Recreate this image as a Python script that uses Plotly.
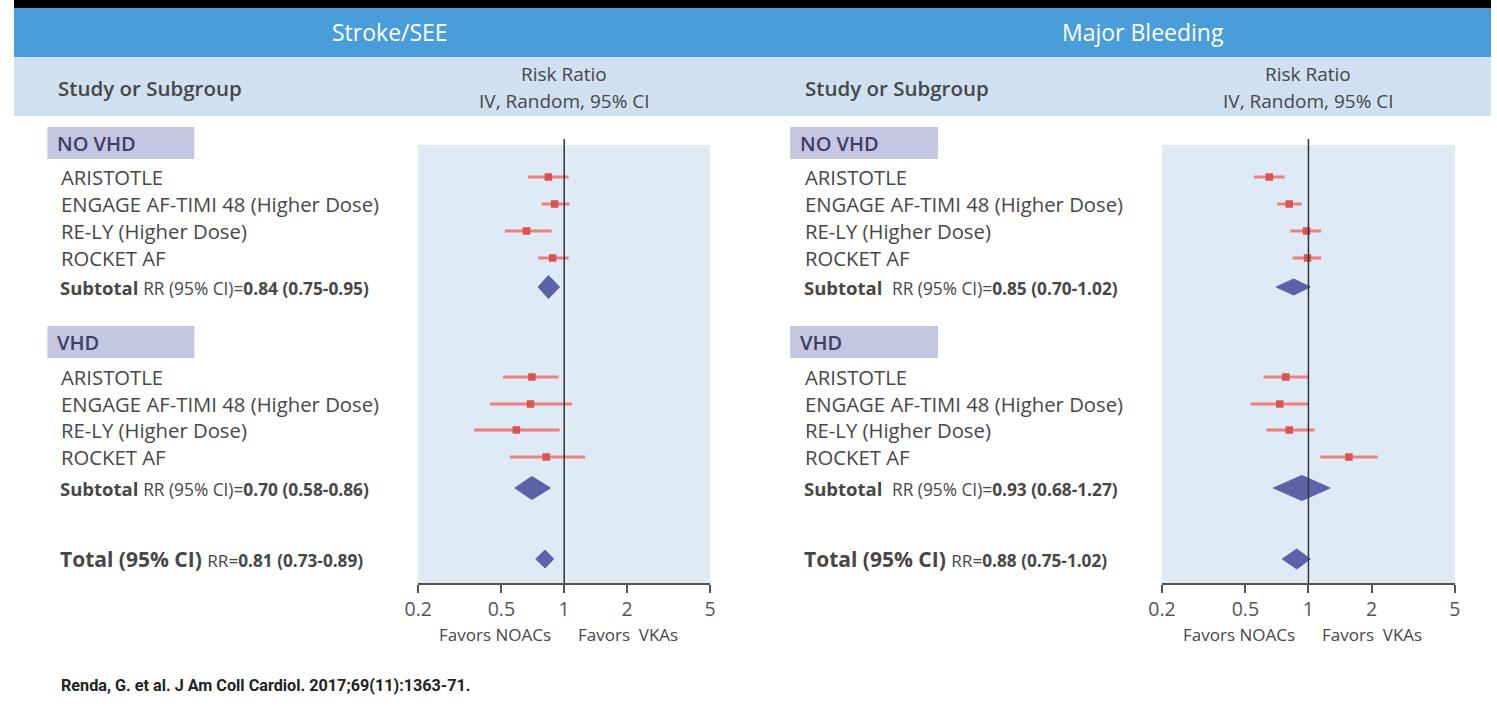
import math
import plotly.graph_objects as go

W, H = 1497, 717

# ---------------- data ----------------
studies = ["ARISTOTLE", "ENGAGE AF-TIMI 48 (Higher Dose)", "RE-LY (Higher Dose)", "ROCKET AF"]
groups = ["NO VHD", "VHD"]
panel_titles = ["Stroke/SEE", "Major Bleeding"]
tick_vals = [0.2, 0.5, 1, 2, 5]
tick_text = ["0.2", "0.5", "1", "2", "5"]

# Stroke/SEE
stroke_novhd_rr = [0.84, 0.90, 0.66, 0.88]
stroke_novhd_lo = [0.67, 0.78, 0.52, 0.75]
stroke_novhd_hi = [1.05, 1.06, 0.87, 1.05]
stroke_vhd_rr = [0.70, 0.69, 0.59, 0.82]
stroke_vhd_lo = [0.51, 0.44, 0.37, 0.55]
stroke_vhd_hi = [0.94, 1.09, 0.95, 1.26]
stroke_sub_rr = [0.84, 0.70]
stroke_sub_lo = [0.75, 0.58]
stroke_sub_hi = [0.95, 0.86]
stroke_tot = [0.81, 0.73, 0.89]

# Major bleeding
bleed_novhd_rr = [0.65, 0.81, 0.98, 0.99]
bleed_novhd_lo = [0.55, 0.71, 0.82, 0.84]
bleed_novhd_hi = [0.77, 0.93, 1.15, 1.15]
bleed_vhd_rr = [0.78, 0.73, 0.81, 1.56]
bleed_vhd_lo = [0.61, 0.53, 0.63, 1.14]
bleed_vhd_hi = [1.00, 1.00, 1.07, 2.14]
bleed_sub_rr = [0.85, 0.93]
bleed_sub_lo = [0.70, 0.68]
bleed_sub_hi = [1.02, 1.27]
bleed_tot = [0.88, 0.75, 1.02]

citation = "Renda, G. et al. J Am Coll Cardiol. 2017;69(11):1363-71."

# ---------------- layout helpers (target pixel -> paper) ----------------
# horizontal calibration of the rendered page (figure appears slightly inset)
X_OFF, X_SCALE = 13.6, 0.987


def px(x):
    return max((x - X_OFF) / X_SCALE, 0) / W


def py(y):
    return 1 - y / H


FONT = "Open Sans, Noto Sans, sans-serif"
TXT = "#474747"
BLUE_BAR = "#4a9ddb"
BAND = "#cfe0f0"
PLOT_BG = "#deeaf6"
BOX = "#c5c6e2"
RED_LINE = "#ef7f7c"
RED_MARK = "#d9534f"
DIAMOND = "#5a62a8"

# row positions (pixel y, used as the y-axis scale of both panels)
header_rows = [143, 342]
study_rows = [[177, 204, 231, 258], [377, 404, 430, 457]]
sub_rows = [287, 488]
total_row = 559
PLOT_TOP, PLOT_BOTTOM = 145, 583

panels = [
    dict(title=panel_titles[0], title_x=390, label_x=59, head_x=56, box=(47, 194), ax0=418, ax1=710,
         rr=[stroke_novhd_rr, stroke_vhd_rr], lo=[stroke_novhd_lo, stroke_vhd_lo],
         hi=[stroke_novhd_hi, stroke_vhd_hi], sub=(stroke_sub_rr, stroke_sub_lo, stroke_sub_hi),
         tot=stroke_tot, sub_h=[11.5, 11.5], tot_h=9, rr_gap=""),
    dict(title=panel_titles[1], title_x=1143, label_x=803, head_x=803, box=(790, 938), ax0=1162, ax1=1455,
         rr=[bleed_novhd_rr, bleed_vhd_rr], lo=[bleed_novhd_lo, bleed_vhd_lo],
         hi=[bleed_novhd_hi, bleed_vhd_hi], sub=(bleed_sub_rr, bleed_sub_lo, bleed_sub_hi),
         tot=bleed_tot, sub_h=[8, 12.5], tot_h=10, rr_gap="&nbsp;"),
]

fig = go.Figure()
shapes = []
annotations = []

# frame: black top strip, header bars
shapes.append(dict(type="rect", xref="paper", yref="paper", x0=0, x1=1, y0=py(8), y1=1,
                   fillcolor="black", line=dict(width=0), layer="below"))
shapes.append(dict(type="rect", xref="paper", yref="paper", x0=0, x1=1, y0=py(57), y1=py(8),
                   fillcolor=BLUE_BAR, line=dict(width=0), layer="below"))
shapes.append(dict(type="rect", xref="paper", yref="paper", x0=0, x1=1, y0=py(116), y1=py(57),
                   fillcolor=BAND, line=dict(width=0), layer="below"))

for i, p in enumerate(panels):
    xa = "x" if i == 0 else "x2"
    ya = "y" if i == 0 else "y2"
    # CI lines
    lx, ly = [], []
    mx, my = [], []
    for g in range(2):
        for k in range(len(studies)):
            r = study_rows[g][k]
            lx += [p["lo"][g][k], p["hi"][g][k], None]
            ly += [r, r, None]
            mx.append(p["rr"][g][k])
            my.append(r)
    fig.add_trace(go.Scatter(x=lx, y=ly, mode="lines", line=dict(color=RED_LINE, width=3),
                             xaxis=xa, yaxis=ya, showlegend=False, hoverinfo="skip"))
    fig.add_trace(go.Scatter(x=mx, y=my, mode="markers",
                             marker=dict(symbol="square", size=7.5, color=RED_MARK),
                             xaxis=xa, yaxis=ya, showlegend=False))
    # diamonds
    srr, slo, shi = p["sub"]
    dias = [(srr[0], slo[0], shi[0], sub_rows[0], p["sub_h"][0]),
            (srr[1], slo[1], shi[1], sub_rows[1], p["sub_h"][1]),
            (p["tot"][0], p["tot"][1], p["tot"][2], total_row, p["tot_h"])]
    for est, lo, hi, r, h in dias:
        fig.add_trace(go.Scatter(x=[lo, est, hi, est, lo], y=[r, r - h, r, r + h, r],
                                 mode="lines", fill="toself", fillcolor=DIAMOND,
                                 line=dict(color=DIAMOND, width=1),
                                 xaxis=xa, yaxis=ya, showlegend=False, hoverinfo="skip"))
    # reference line at 1
    shapes.append(dict(type="line", xref=xa, yref="paper", x0=1, x1=1,
                       y0=py(PLOT_BOTTOM), y1=py(139), line=dict(color="#333333", width=1.5)))

    # header texts
    annotations.append(dict(text=p["title"], x=px(p["title_x"]), y=py(32), xref="paper", yref="paper",
                            showarrow=False, xanchor="center", yanchor="middle",
                            font=dict(family=FONT, size=23, color="white")))
    annotations.append(dict(text="Study or Subgroup", x=px(p["head_x"]), y=py(88), xref="paper",
                            yref="paper", showarrow=False, xanchor="left", yanchor="middle",
                            font=dict(family=FONT, size=20.5, color=TXT, weight=600)))
    cx = (p["ax0"] + p["ax1"]) / 2
    annotations.append(dict(text="Risk Ratio", x=px(cx), y=py(74.5), xref="paper", yref="paper",
                            showarrow=False, xanchor="center", yanchor="middle",
                            font=dict(family=FONT, size=19, color=TXT)))
    annotations.append(dict(text="IV, Random, 95% CI", x=px(cx), y=py(100.5), xref="paper", yref="paper",
                            showarrow=False, xanchor="center", yanchor="middle",
                            font=dict(family=FONT, size=19, color=TXT)))
    # favours
    annotations.append(dict(text="Favors NOACs", x=px(cx - 11), y=py(634), xref="paper", yref="paper",
                            showarrow=False, xanchor="right", yanchor="middle",
                            font=dict(family=FONT, size=17, color=TXT)))
    annotations.append(dict(text="Favors&nbsp;&nbsp;VKAs", x=px(cx + 12), y=py(634), xref="paper",
                            yref="paper", showarrow=False, xanchor="left", yanchor="middle",
                            font=dict(family=FONT, size=17, color=TXT)))

    # group boxes and labels
    for g in range(2):
        hy = header_rows[g]
        shapes.append(dict(type="rect", xref="paper", yref="paper", x0=px(p["box"][0]), x1=px(p["box"][1]),
                           y0=py(hy + 16), y1=py(hy - 16), fillcolor=BOX, line=dict(width=0)))
        annotations.append(dict(text=groups[g], x=px(p["box"][0] + 8), y=py(hy), xref="paper",
                                yref="paper", showarrow=False, xanchor="left", yanchor="middle",
                                font=dict(family=FONT, size=20, color="#3e3f63", weight=600)))
        for k, s in enumerate(studies):
            annotations.append(dict(text=s, x=px(p["label_x"]), y=py(study_rows[g][k]), xref="paper",
                                    yref="paper", showarrow=False, xanchor="left", yanchor="middle",
                                    font=dict(family=FONT, size=20.3, color=TXT)))
        sub_txt = (f"<b>Subtotal</b>&nbsp;{p['rr_gap']}"
                   f"<span style='font-size:17.3px'>RR (95% CI)=<b>{srr[g]:.2f} ({slo[g]:.2f}-{shi[g]:.2f})</b></span>")
        annotations.append(dict(text=sub_txt, x=px(p["label_x"] - 1), y=py(sub_rows[g]), xref="paper",
                                yref="paper", showarrow=False, xanchor="left", yanchor="middle",
                                font=dict(family=FONT, size=18.5, color=TXT)))
    t = p["tot"]
    tot_txt = (f"<b>Total (95% CI)</b> <span style='font-size:17.2px'>RR=<b>{t[0]:.2f} ({t[1]:.2f}-{t[2]:.2f})</b></span>")
    annotations.append(dict(text=tot_txt, x=px(p["label_x"] - 1), y=py(total_row), xref="paper",
                            yref="paper", showarrow=False, xanchor="left", yanchor="middle",
                            font=dict(family=FONT, size=21, color=TXT)))

annotations.append(dict(text="<b>" + citation + "</b>", x=px(59), y=py(685), xref="paper", yref="paper",
                        showarrow=False, xanchor="left", yanchor="middle",
                        font=dict(family="Roboto, sans-serif", size=16.2, color="#222222")))

xcommon = dict(type="log", range=[math.log10(0.2), math.log10(5)], tickvals=tick_vals, ticktext=tick_text,
               showgrid=False, zeroline=False, showline=True, linecolor="#555555", linewidth=1.5,
               ticks="outside", ticklen=8, tickwidth=1.5, tickcolor="#555555",
               tickfont=dict(family=FONT, size=19.5, color="#555555"), fixedrange=True)
ycommon = dict(range=[PLOT_BOTTOM, PLOT_TOP], domain=[py(PLOT_BOTTOM), py(PLOT_TOP)], visible=False,
               showgrid=False, zeroline=False, fixedrange=True)

fig.update_layout(
    width=W, height=H, margin=dict(l=0, r=0, t=0, b=0),
    paper_bgcolor="white", plot_bgcolor=PLOT_BG,
    xaxis=dict(domain=[px(418), px(710)], anchor="y", **xcommon),
    xaxis2=dict(domain=[px(1162), px(1455)], anchor="y2", **xcommon),
    yaxis=dict(anchor="x", **ycommon),
    yaxis2=dict(anchor="x2", **ycommon),
    shapes=shapes, annotations=annotations, showlegend=False,
)

fig.write_html("out.html")
